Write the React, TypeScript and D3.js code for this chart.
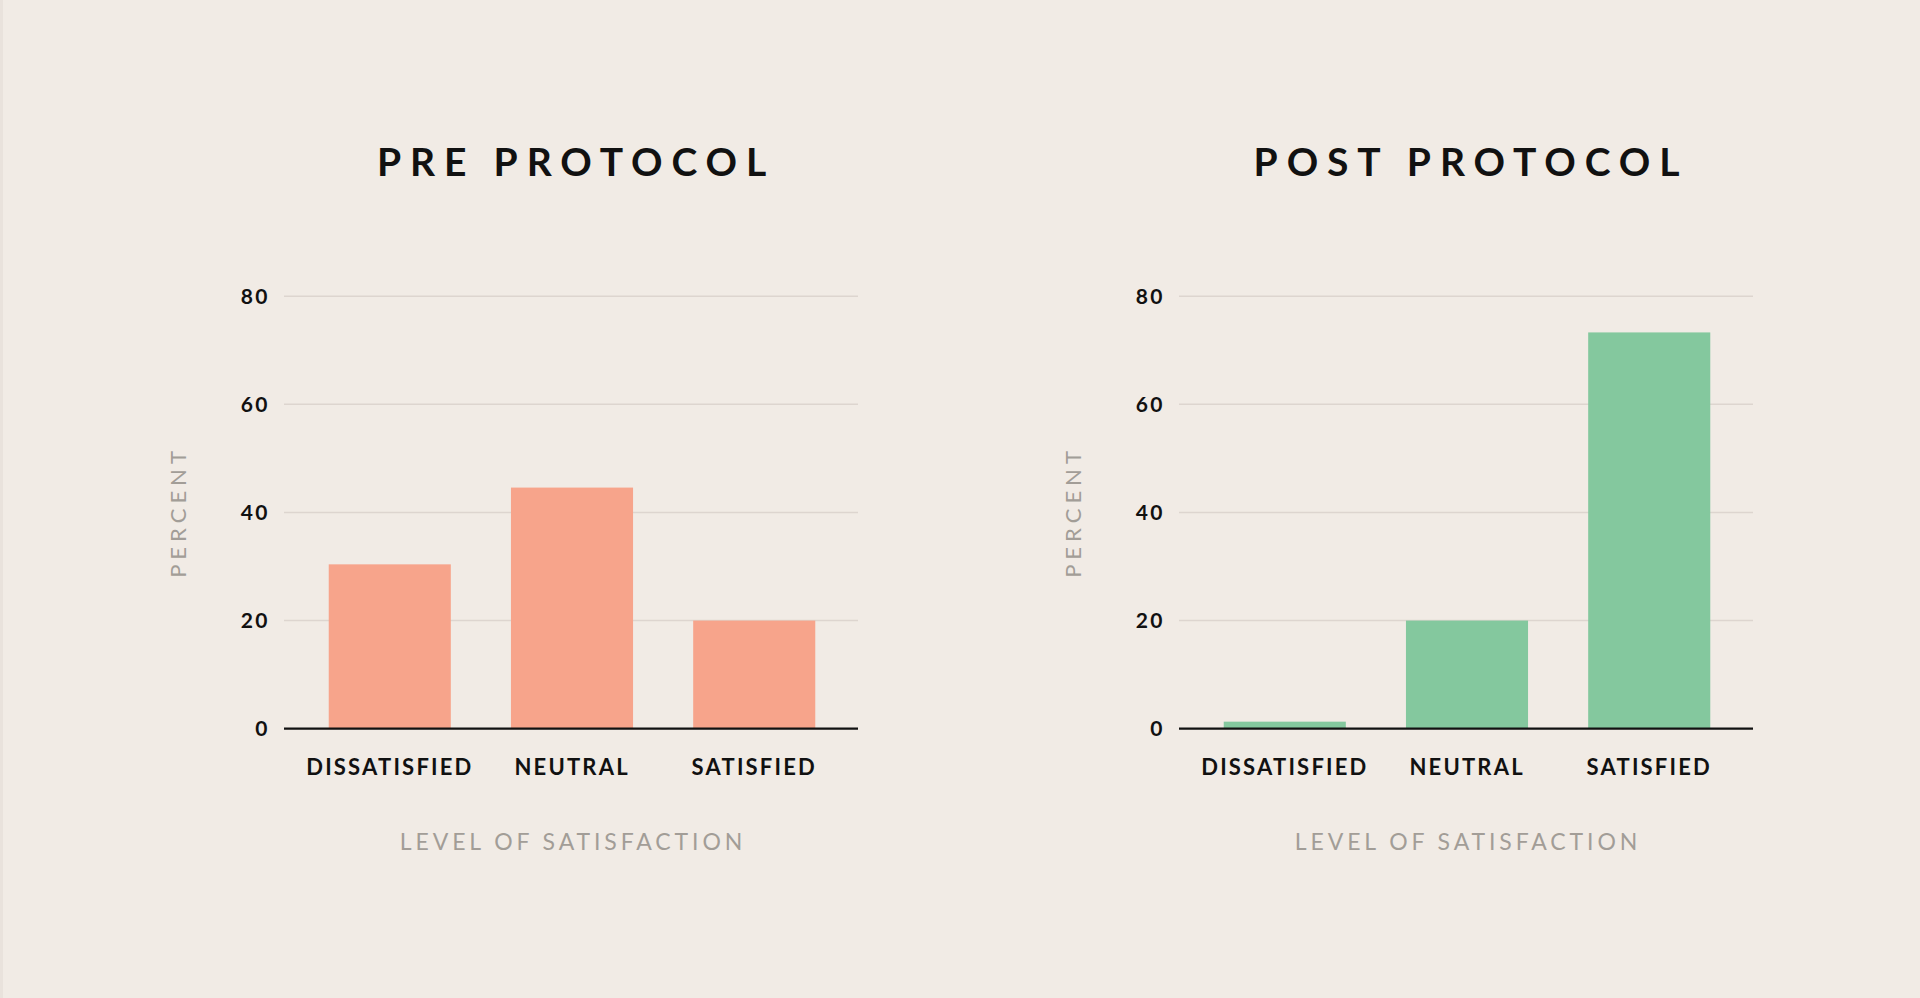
import React from "react";
import * as d3 from "d3";

const categories = ["DISSATISFIED", "NEUTRAL", "SATISFIED"];
const preValues = [30.4, 44.6, 20.0];
const postValues = [1.3, 20.0, 73.3];
const yTicks = [0, 20, 40, 60, 80];

const WIDTH = 1920;
const HEIGHT = 998;
const BG = "#f1ebe5";
const INK = "#111111";
const MUTED = "#a29d97";
const FONT = "Lato, 'Noto Sans', sans-serif";

interface PanelProps {
  title: string;
  values: number[];
  color: string;
  left: number;
}

function Panel({ title, values, color, left }: PanelProps) {
  const innerWidth = 574;
  const top = 296.2;
  const bottom = 728.7;

  const x = d3
    .scaleBand<string>()
    .domain(categories)
    .range([left, left + innerWidth])
    .paddingInner(0.33)
    .paddingOuter(0.24);

  const y = d3.scaleLinear().domain([0, 80]).range([bottom, top]);

  const cx = left + innerWidth / 2;

  return (
    <g>
      {/* Title */}
      <text
        x={cx + 5}
        y={176}
        textAnchor="middle"
        fontFamily={FONT}
        fontWeight={700}
        fontSize={39}
        letterSpacing={8.9}
        fill={INK}
      >
        {title}
      </text>

      {/* Grid + y ticks */}
      {yTicks.map((t) => (
        <g key={t}>
          {t > 0 && (
            <line
              x1={left}
              x2={left + innerWidth}
              y1={y(t)}
              y2={y(t)}
              stroke="#ddd5cf"
              strokeWidth={1.5}
            />
          )}
          <text
            x={left - 14}
            y={y(t)}
            dy="0.36em"
            textAnchor="end"
            fontFamily={FONT}
            fontWeight={700}
            fontSize={21}
            letterSpacing={2.5}
            fill={INK}
          >
            {t}
          </text>
        </g>
      ))}

      {/* Bars */}
      {categories.map((c, i) => (
        <rect
          key={c}
          x={(x(c) ?? 0) + 1}
          y={y(values[i])}
          width={x.bandwidth()}
          height={y(0) - y(values[i])}
          fill={color}
        />
      ))}

      {/* Baseline */}
      <line
        x1={left}
        x2={left + innerWidth}
        y1={y(0)}
        y2={y(0)}
        stroke={INK}
        strokeWidth={2.2}
      />

      {/* Category labels */}
      {categories.map((c) => (
        <text
          key={c}
          x={(x(c) ?? 0) + x.bandwidth() / 2 + 1.1}
          y={775}
          textAnchor="middle"
          fontFamily={FONT}
          fontWeight={700}
          fontSize={22}
          letterSpacing={2.2}
          fill={INK}
        >
          {c}
        </text>
      ))}

      {/* Axis titles */}
      <text
        x={cx + 2}
        y={850}
        textAnchor="middle"
        fontFamily={FONT}
        fontWeight={400}
        fontSize={23}
        letterSpacing={3.9}
        fill={MUTED}
      >
        LEVEL OF SATISFACTION
      </text>
      <text
        transform={`translate(${left - 106.4},512) rotate(-90)`}
        dy="0.36em"
        textAnchor="middle"
        fontFamily={FONT}
        fontWeight={400}
        fontSize={22}
        letterSpacing={5}
        fill={MUTED}
      >
        PERCENT
      </text>
    </g>
  );
}

export default function App() {
  return (
    <svg
      width={WIDTH}
      height={HEIGHT}
      style={{ position: "fixed", left: 0, top: 0 }}
    >
      <rect width={WIDTH} height={HEIGHT} fill={BG} />
      <rect x={0} y={0} width={3} height={HEIGHT} fill="#e9e2dc" />
      <Panel title="PRE PROTOCOL" values={preValues} color="#f7a48b" left={284} />
      <Panel title="POST PROTOCOL" values={postValues} color="#84c89e" left={1179} />
    </svg>
  );
}
